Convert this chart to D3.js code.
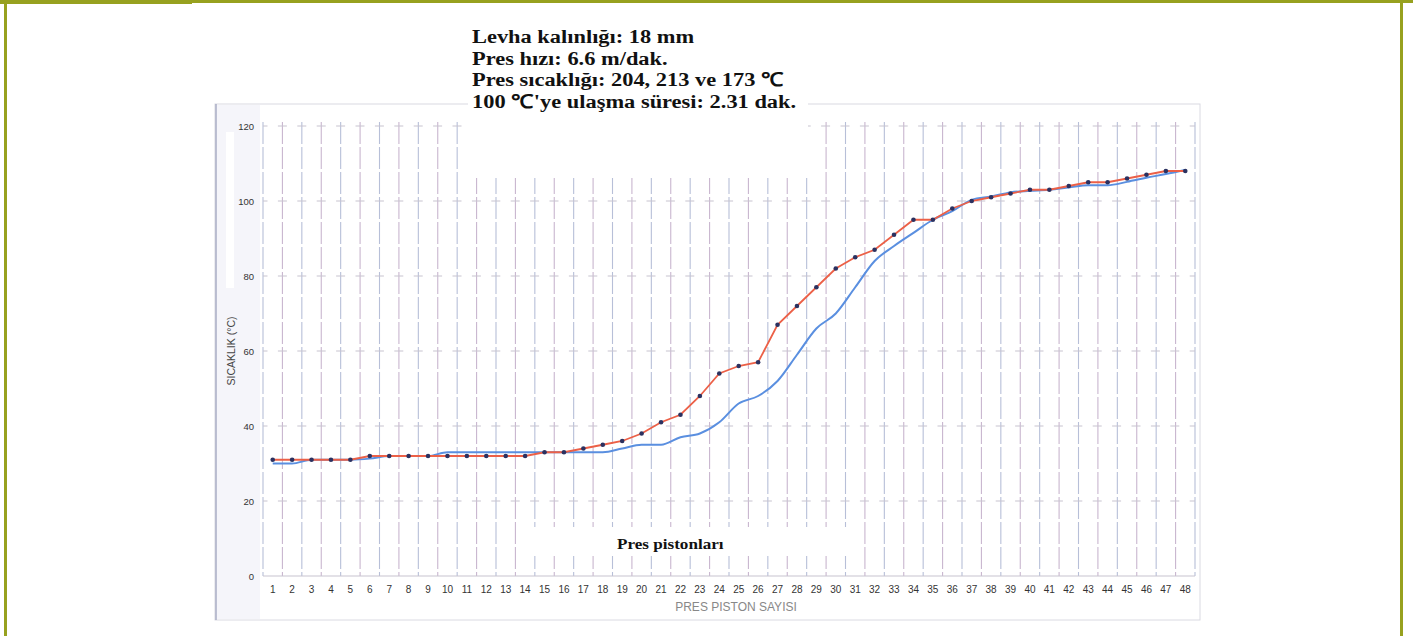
<!DOCTYPE html>
<html>
<head>
<meta charset="utf-8">
<script src="https://cdn.jsdelivr.net/npm/d3@7"></script>
<style>
  html, body { margin: 0; padding: 0; background: #fff; }
  svg { display: block; }
</style>
</head>
<body>
<svg id="chart" width="1413" height="636"></svg>
<script>
// ---- data ----
const pistons = d3.range(1, 49);
const redSeries = [31,31,31,31,31,32,32,32,32,32,32,32,32,32,33,33,34,35,36,38,41,43,48,54,56,57,67,72,77,82,85,87,91,95,95,98,100,101,102,103,103,104,105,105,106,107,108,108];
const blueSeries = [30,30,31,31,31,31.3,32,32,32,33,33,33,33,33,33,33,33,33,34,35,35,37,38,41,46,48,52,59,66,70,77,84,88,91.5,95,97.3,100.3,101.2,102.3,102.7,103,103.6,104.2,104.2,105.1,106.2,107.2,108.3];
const yTicks = [0,20,40,60,80,100,120];
const titleLines = [
  "Levha kalınlığı: 18 mm",
  "Pres hızı: 6.6 m/dak.",
  "Pres sıcaklığı: 204, 213 ve 173 ℃",
  "100 ℃'ye ulaşma süresi: 2.31 dak."
];
const yTitle = "SICAKLIK (°C)";
const xTitle = "PRES PISTON SAYISI";
const boxLabel = "Pres pistonları";

// ---- layout ----
const svg = d3.select("#chart");
const olive = "#97a11f";

const x = d3.scaleBand().domain(pistons).range([263, 1195]).padding(0);
const bw = x.bandwidth();
const cx = d => x(d) + bw / 2;
const y = d3.scaleLinear().domain([0, 120]).range([576, 126]);

// photo frame background
svg.append("rect").attr("x", 215).attr("y", 104).attr("width", 985).attr("height", 516)
  .attr("fill", "#fff").attr("stroke", "#dadae2").attr("stroke-width", 1);
svg.append("rect").attr("x", 216).attr("y", 105).attr("width", 44).attr("height", 514)
  .attr("fill", "#f5f5fa");
svg.append("rect").attr("x", 226).attr("y", 132).attr("width", 8).attr("height", 156)
  .attr("fill", "#fff");
svg.append("line").attr("x1", 216).attr("x2", 216).attr("y1", 104).attr("y2", 620)
  .attr("stroke", "#a9adc4").attr("stroke-width", 1.5);

// vertical grid lines (band boundaries)
const bounds = pistons.map(d => x(d)).concat([x(48) + bw]);
svg.append("g").selectAll("line").data(bounds).join("line")
  .attr("x1", d => d).attr("x2", d => d)
  .attr("y1", y(120) - 4).attr("y2", y(0))
  .attr("stroke", (d, i) => i % 2 ? "#c9b6cf" : "#b7bfd8")
  .attr("stroke-width", 1.1)
  .attr("stroke-dasharray", "22,3");

// horizontal grid lines
svg.append("g").selectAll("line").data(yTicks).join("line")
  .attr("x1", x(1)).attr("x2", x(48) + bw)
  .attr("y1", d => y(d)).attr("y2", d => y(d))
  .attr("stroke", "#c7c3cf")
  .attr("stroke-width", 1.1)
  .attr("stroke-dasharray", d => d === 0 ? null : "9,10.4")
  .attr("stroke-dashoffset", 4.5);

// white patches (as in the scanned original)
svg.append("rect").attr("x", 468).attr("y", 14).attr("width", 340).attr("height", 164).attr("fill", "#fff");
svg.append("rect").attr("x", 532).attr("y", 527).attr("width", 318).attr("height", 29).attr("fill", "#fff");

// axes
const yAxis = d3.axisLeft(y).tickValues(yTicks).tickSize(0).tickPadding(9);
svg.append("g").attr("transform", `translate(${x(1)},0)`).call(yAxis)
  .call(g => g.select(".domain").remove())
  .call(g => g.selectAll("text").attr("font-family", "Liberation Sans, Arial, sans-serif")
    .attr("font-size", 9.5).attr("fill", "#333"));

const xAxis = d3.axisBottom(x).tickSize(0).tickPadding(10);
svg.append("g").attr("transform", `translate(0,${y(0)})`).call(xAxis)
  .call(g => g.select(".domain").remove())
  .call(g => g.selectAll("text").attr("font-family", "Liberation Sans, Arial, sans-serif")
    .attr("font-size", 10).attr("fill", "#333"));

// axis titles
svg.append("text").attr("transform", `translate(235,351) rotate(-90)`)
  .attr("text-anchor", "middle").attr("font-family", "Liberation Sans, Arial, sans-serif")
  .attr("font-size", 10.5).attr("fill", "#444").text(yTitle);
svg.append("text").attr("x", 736).attr("y", 611)
  .attr("text-anchor", "middle").attr("font-family", "Liberation Sans, Arial, sans-serif")
  .attr("font-size", 12).attr("fill", "#888").text(xTitle);

// lines
const blueLine = d3.line().x((d, i) => cx(pistons[i])).y(d => y(d)).curve(d3.curveMonotoneX);
const redLine = d3.line().x((d, i) => cx(pistons[i])).y(d => y(d));

svg.append("path").datum(blueSeries).attr("d", blueLine)
  .attr("fill", "none").attr("stroke", "#5a8fe0").attr("stroke-width", 2);
svg.append("path").datum(redSeries).attr("d", redLine)
  .attr("fill", "none").attr("stroke", "#ec6047").attr("stroke-width", 1.8);
svg.append("g").selectAll("circle").data(redSeries).join("circle")
  .attr("cx", (d, i) => cx(pistons[i])).attr("cy", d => y(d)).attr("r", 2.3)
  .attr("fill", "#2b3160");

// title text (horizontally stretched like the scanned original)
svg.append("g").attr("transform", "translate(472,0) scale(1.18,1)")
  .selectAll("text").data(titleLines).join("text")
  .attr("x", 0).attr("y", (d, i) => 43 + i * 21.7)
  .attr("font-family", "Liberation Serif, Times New Roman, serif")
  .attr("font-weight", "bold").attr("font-size", 19).attr("fill", "#111")
  .text(d => d);

svg.append("g").attr("transform", "translate(617,0) scale(1.18,1)")
  .append("text").attr("x", 0).attr("y", 549)
  .attr("font-family", "Liberation Serif, Times New Roman, serif")
  .attr("font-weight", "bold").attr("font-size", 14.5).attr("fill", "#111").text(boxLabel);

// olive page frame
svg.append("rect").attr("x", 0).attr("y", 0).attr("width", 1413).attr("height", 3).attr("fill", olive);
svg.append("rect").attr("x", 0).attr("y", 0).attr("width", 192).attr("height", 4).attr("fill", olive);
svg.append("rect").attr("x", 4).attr("y", 0).attr("width", 3).attr("height", 636).attr("fill", olive);
svg.append("rect").attr("x", 1400).attr("y", 0).attr("width", 3).attr("height", 636).attr("fill", olive);
</script>
</body>
</html>
